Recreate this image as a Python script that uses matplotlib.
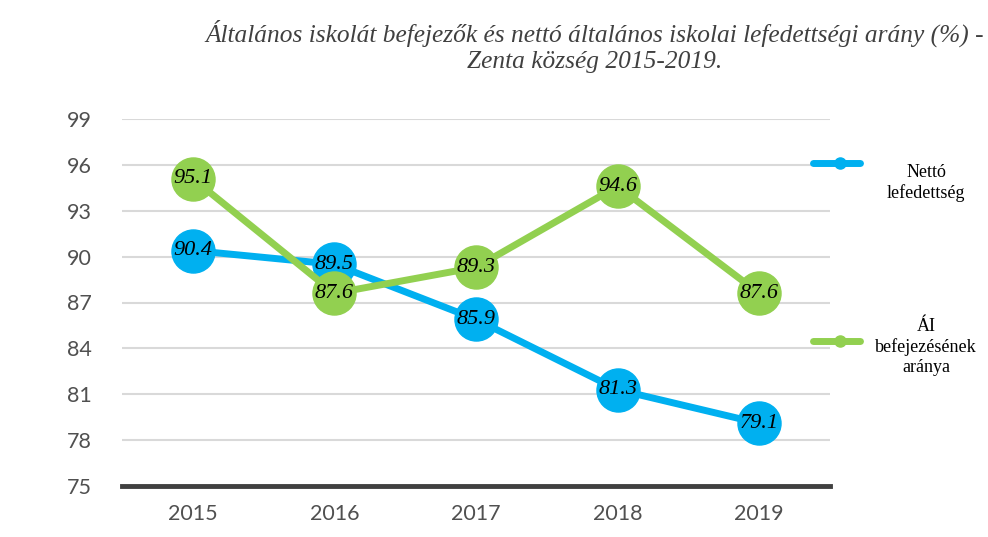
import matplotlib
matplotlib.use("Agg")
import matplotlib.pyplot as plt
from matplotlib.lines import Line2D

years = ["2015", "2016", "2017", "2018", "2019"]
netto = [90.4, 89.5, 85.9, 81.3, 79.1]
ai_arany = [95.1, 87.6, 89.3, 94.6, 87.6]
yticks = [75, 78, 81, 84, 87, 90, 93, 96, 99]
series_names = ["Nettó\nlefedettség", "ÁI\nbefejezésének\naránya"]
title = "Általános iskolát befejezők és nettó általános iskolai lefedettségi arány (%) -\nZenta község 2015-2019."

BLUE = "#00B0F0"
GREEN = "#92D050"

fig = plt.figure(figsize=(9.88, 5.37), dpi=100)
ax = fig.add_axes([122/988, 1-486/537, (830-122)/988, (486-119)/537])

x = list(range(len(years)))
for vals, col in [(netto, BLUE), (ai_arany, GREEN)]:
    ax.plot(x, vals, color=col, lw=5, marker="o", ms=31, mfc=col, mec=col, zorder=3,
            solid_capstyle="round")
    for xi, v in zip(x, vals):
        ax.text(xi, v, f"{v:.1f}", ha="center", va="center", fontsize=16,
                style="italic", family="Liberation Serif", color="black", zorder=5)

ax.set_xlim(-0.5, len(years) - 0.5)
ax.set_ylim(75, 99)
ax.set_yticks(yticks)
ax.set_xticks(x)
ax.set_xticklabels(years)
ax.grid(axis="y", color="#D9D9D9", lw=1.5, zorder=0)
ax.set_axisbelow(True)
for s in ["top", "right", "left"]:
    ax.spines[s].set_visible(False)
ax.spines["bottom"].set_color("#404040")
ax.spines["bottom"].set_linewidth(3.5)
ax.spines["bottom"].set_zorder(4)
ax.tick_params(length=0, labelsize=15.5, labelcolor="#505050", pad=0)
ax.tick_params(axis="y", pad=22)
ax.tick_params(axis="x", pad=13)
for lab in ax.get_xticklabels() + ax.get_yticklabels():
    lab.set_family("Lato")

fig.text(984/988, 1-20/537, title, ha="right", va="top", fontsize=18.3,
         style="italic", family="Liberation Serif", color="#404040",
         multialignment="center", linespacing=1.2)

# legend
for (ly, ty, name, col) in [(163, 183, series_names[0], BLUE), (341, 347, series_names[1], GREEN)]:
    fy = 1 - ly/537
    fig.add_artist(Line2D([813/988, 860/988], [fy, fy], color=col, lw=5,
                          solid_capstyle="round", transform=fig.transFigure))
    fig.add_artist(Line2D([840/988], [fy], color=col, marker="o", ms=8,
                          transform=fig.transFigure))
    fig.text(926/988, 1-ty/537, name, ha="center", va="center", fontsize=13,
             family="Liberation Serif", color="black", multialignment="center",
             linespacing=1.25)

fig.savefig("out.png", dpi=100)
